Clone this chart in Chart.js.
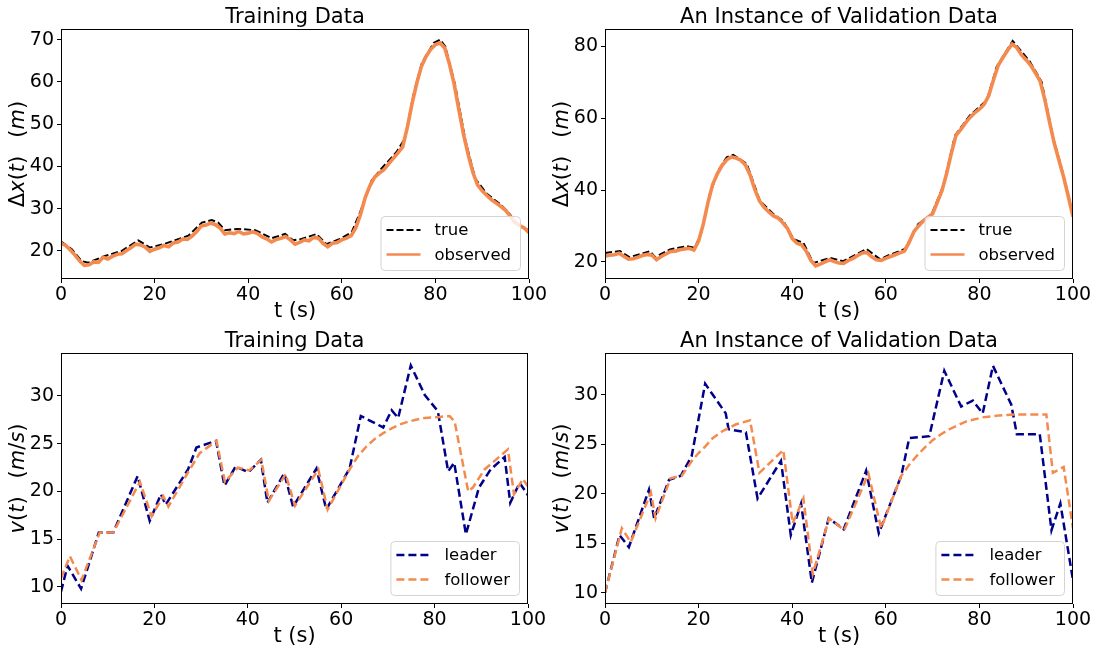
<!DOCTYPE html>
<html>
<head>
<meta charset="utf-8">
<script src="https://cdn.jsdelivr.net/npm/chart.js@4.4.0/dist/chart.umd.min.js"></script>
<style>
  body { margin: 0; background: #fff; }
  #wrap { position: relative; width: 1101px; height: 653px; overflow: hidden; }
  canvas { position: absolute; }
</style>
</head>
<body>
<div id="wrap">
  <canvas id="gapTrain" width="550" height="326" style="left:0;top:0"></canvas>
  <canvas id="gapVal" width="551" height="326" style="left:550px;top:0"></canvas>
  <canvas id="speedTrain" width="550" height="327" style="left:0;top:326px"></canvas>
  <canvas id="speedVal" width="551" height="327" style="left:550px;top:326px"></canvas>
</div>
<script>
// tick labels
const tickT = [0, 20, 40, 60, 80, 100];
const ticksGapTrain = [20, 30, 40, 50, 60, 70];
const ticksGapVal = [20, 40, 60, 80];
const ticksSpeed = [10, 15, 20, 25, 30];

// training gap, true (read at the bends)
const gapTrueTrainT = [0, 2.3, 4.4, 5.8, 9.4, 13, 16.5, 19, 22.2, 27.2, 30.1, 32.2, 33.6, 35, 37.9, 41.5, 43.2, 45, 47.9, 49.6, 51.4, 54.6, 56.7, 59.6, 62.1, 63.9, 66.4, 68.5, 71.7, 73.5, 75.3, 77.1, 79.6, 81, 82.1, 84.2, 86.4, 88.5, 91, 93.8, 95.6, 97.4, 100];
const gapTrueTrain = [22.2, 20.4, 17.6, 17.2, 18.8, 20.0, 22.5, 20.8, 21.7, 23.6, 26.7, 27.3, 26.7, 24.9, 25.2, 24.9, 24.0, 23.0, 24.0, 22.5, 22.8, 24.0, 21.6, 22.8, 24.4, 29.1, 36.7, 39.5, 43.4, 46.6, 56.9, 64.4, 69.2, 70.0, 68.4, 59.3, 46.2, 37.1, 33.5, 31.1, 29.1, 26.4, 24.8];
// training gap, observed (one value per second)
const gapObsTrain = [21.8, 21.3, 20.2, 19.0, 17.6, 16.6, 16.7, 17.4, 17.3, 18.5,
  18.1, 18.7, 19.2, 19.3, 20.1, 20.8, 21.6, 21.4, 20.9, 19.9,
  20.4, 20.7, 21.3, 21.0, 21.9, 22.1, 22.8, 22.7, 23.5, 24.6,
  25.9, 26.1, 26.6, 26.2, 25.4, 24.0, 24.3, 24.1, 24.6, 24.0,
  24.2, 24.5, 24.1, 23.3, 22.8, 22.1, 22.7, 23.0, 23.4, 22.6,
  21.6, 22.0, 22.6, 22.4, 23.2, 23.0, 21.8, 21.0, 21.8, 22.0,
  22.6, 23.0, 23.6, 25.5, 28.6, 32.6, 35.4, 37.4, 38.4, 39.2,
  40.6, 41.9, 43.2, 44.6, 49.2, 54.8, 59.6, 63.6, 66.0, 67.7,
  68.8, 69.2, 68.0, 64.2, 59.5, 53.5, 47.6, 42.8, 38.6, 35.6,
  34.2, 33.1, 32.1, 31.3, 30.5, 29.6, 28.2, 26.7, 26.0, 25.4, 24.3];

// validation gap, true
const gapTrueValT = [0, 3.2, 5.3, 9.6, 10.7, 13.9, 17.5, 19.2, 20.7, 22.4, 24.2, 26.0, 27.4, 30.3, 33.1, 36.0, 38.1, 40.3, 42.4, 44.5, 48.1, 50.9, 55.9, 58.8, 60.5, 64.1, 66.9, 69.8, 72.3, 74.8, 78.0, 81.6, 83.7, 87.1, 90.8, 93.3, 95.8, 98.0, 100];
const gapTrueVal = [22.5, 23.0, 21.3, 23.0, 21.3, 23.5, 24.4, 23.9, 28.6, 38.9, 45.4, 49.1, 49.8, 47.3, 37.0, 33.3, 31.4, 26.3, 25.3, 19.7, 21.1, 20.2, 23.6, 20.7, 21.8, 23.6, 30.5, 33.3, 41.2, 55.2, 60.8, 65.0, 74.3, 81.5, 75.7, 70.1, 54.3, 44.0, 33.0];
// validation gap, observed (one value per second)
const gapObsVal = [21.6, 21.9, 22.0, 22.4, 21.6, 20.8, 20.9, 21.3, 21.8, 22.1,
  21.9, 20.6, 21.5, 22.2, 22.9, 23.0, 23.4, 23.6, 23.8, 23.3,
  25.8, 30.5, 36.5, 41.5, 44.5, 46.8, 48.4, 49.2, 48.9, 48.3,
  47.0, 44.2, 40.2, 37.0, 35.2, 33.9, 32.8, 32.2, 30.9, 29.3,
  26.5, 25.2, 24.8, 23.0, 20.4, 18.9, 19.4, 20.0, 20.6, 20.1,
  19.7, 19.6, 20.4, 21.0, 21.8, 22.5, 22.6, 21.4, 20.6, 20.4,
  21.0, 21.5, 22.0, 22.5, 23.0, 25.5, 28.4, 30.0, 31.4, 32.4,
  33.4, 36.6, 39.8, 44.6, 50.2, 55.2, 56.8, 58.6, 60.2, 61.5,
  62.5, 63.8, 66.3, 70.6, 74.6, 76.8, 78.8, 80.6, 79.6, 77.6,
  76.2, 74.6, 72.5, 70.2, 65.0, 58.8, 53.0, 48.3, 43.6, 38.2, 32.6];

// training speeds
const speedLeadTrainT = [0, 1.4, 4.3, 8.1, 11.2, 16.4, 19.0, 21.4, 22.4, 27.2, 29.0, 33.2, 35.0, 37.4, 40.1, 42.8, 44.2, 47.8, 49.7, 54.7, 56.8, 61.8, 64.2, 69.0, 70.8, 72.2, 74.9, 77.9, 80.7, 82.9, 84.2, 86.7, 89.5, 92.0, 95.0, 96.2, 98.2, 100];
const speedLeadTrain = [9.5, 12.2, 9.8, 15.7, 15.7, 21.6, 16.9, 19.7, 18.6, 22.3, 24.6, 25.3, 20.6, 22.6, 22.0, 23.3, 18.8, 21.9, 18.4, 22.4, 18.1, 22.4, 27.9, 26.7, 28.5, 27.7, 33.2, 30.1, 28.4, 22.1, 23.0, 15.5, 20.4, 22.3, 23.6, 18.8, 20.9, 19.6];
const speedFollowTrainT = [0, 1.9, 4.4, 8.3, 11.2, 16.9, 19.4, 21.9, 23.0, 27.2, 29.7, 33.3, 35.1, 37.9, 40.3, 42.9, 44.5, 48.1, 50.1, 55.1, 57.1, 61.8, 63.6, 65.4, 67.2, 69.0, 70.8, 72.5, 74.3, 76.0, 77.9, 81.1, 83.2, 84.3, 87.2, 88.2, 90.7, 95.7, 97.0, 98.9, 100];
const speedFollowTrain = [10.9, 13.2, 10.7, 15.7, 15.7, 21.0, 17.4, 19.5, 18.4, 22.0, 24.0, 25.3, 21.0, 22.5, 22.2, 23.3, 19.0, 21.8, 18.5, 22.3, 18.1, 22.3, 23.7, 24.7, 25.5, 26.1, 26.6, 27.0, 27.3, 27.5, 27.7, 27.8, 27.9, 27.3, 20.0, 20.4, 22.3, 24.4, 19.7, 21.3, 20.5];

// validation speeds
const speedLeadValT = [0, 3.1, 5.1, 9.4, 10.5, 13.7, 16.2, 18.5, 21.4, 25.8, 26.4, 30.1, 32.6, 37.6, 39.7, 41.9, 44.2, 47.8, 51.0, 55.8, 58.5, 63.3, 65.0, 69.3, 72.5, 76.1, 78.6, 80.7, 82.9, 86.8, 88.0, 92.9, 95.4, 97.3, 100];
const speedLeadVal = [10.0, 15.8, 14.6, 20.4, 17.5, 21.4, 21.8, 23.75, 31.1, 28.1, 26.5, 26.2, 19.5, 23.3, 15.8, 19.0, 11.0, 17.5, 16.4, 22.3, 16.0, 21.8, 25.6, 25.8, 32.4, 28.8, 29.4, 28.1, 32.9, 29.0, 26.0, 26.0, 16.3, 19.0, 11.25];
const speedFollowValT = [0, 3.6, 5.5, 9.8, 10.8, 14.0, 16.4, 18.7, 20.0, 21.5, 23.0, 25.1, 28.0, 31.0, 33.0, 38.1, 40.1, 42.4, 44.4, 47.9, 51.1, 56.3, 59.0, 63.3, 65.0, 66.5, 68.2, 70.0, 71.8, 73.6, 77.2, 80.7, 84.3, 87.9, 94.3, 95.7, 98.0, 100];
const speedFollowVal = [10.0, 16.5, 15.1, 20.1, 17.5, 21.55, 21.8, 23.4, 24.1, 24.8, 25.6, 26.3, 27.0, 27.4, 22.1, 24.4, 17.0, 19.5, 11.9, 17.5, 16.3, 22.0, 16.5, 21.8, 22.9, 23.75, 24.6, 25.4, 26.0, 26.5, 27.3, 27.7, 27.9, 28.0, 28.0, 22.1, 22.7, 16.5];

const ORANGE = '#f58a4f';
const NAVY = '#00008b';

Chart.defaults.font.family = "'DejaVu Sans', sans-serif";
Chart.defaults.color = '#000';

const pts = (ts, vs) => vs.map((v, i) => ({ x: ts[i], y: v }));
const perSecond = vs => vs.map((v, i) => ({ x: i, y: v }));

// frame, title, axis labels and legend drawn by hand (matplotlib look)
const decor = {
  id: 'decor',
  afterDraw(chart, args, o) {
    const { ctx, chartArea: a } = chart;
    ctx.save();
    ctx.strokeStyle = '#000';
    ctx.lineWidth = 1;
    ctx.setLineDash([]);
    ctx.strokeRect(a.left + 0.5, a.top + 0.5, a.right - a.left - 1, a.bottom - a.top - 1);

    ctx.fillStyle = '#000';
    ctx.textAlign = 'center';
    ctx.textBaseline = 'alphabetic';
    ctx.font = "21px 'DejaVu Sans'";
    ctx.fillText(o.title, (a.left + a.right) / 2, a.top - 6);
    ctx.fillText(o.xlabel, (a.left + a.right) / 2, a.bottom + 38);

    // y label with math italics
    const fonts = { n: "21px 'DejaVu Sans'", i: "oblique 21px 'DejaVu Sans'" };
    let total = 0;
    o.ylabel.forEach(seg => {
      if (seg[0] === ' ') { total += 18; return; }
      ctx.font = fonts[seg[1]];
      total += ctx.measureText(seg[0]).width;
    });
    ctx.translate(a.left - 42, (a.top + a.bottom) / 2);
    ctx.rotate(-Math.PI / 2);
    ctx.textAlign = 'left';
    ctx.textBaseline = 'middle';
    let px = -total / 2;
    o.ylabel.forEach(seg => {
      if (seg[0] === ' ') { px += 18; return; }
      ctx.font = fonts[seg[1]];
      ctx.fillText(seg[0], px, 0);
      px += ctx.measureText(seg[0]).width;
    });
    ctx.setTransform(1, 0, 0, 1, 0, 0);

    // legend
    ctx.font = "16.5px 'DejaVu Sans'";
    const tw = Math.max(...o.legend.map(it => ctx.measureText(it.label).width));
    const bw = 54 + tw + 9, bh = 54;
    const bx = a.right - 9 - bw, by = a.bottom - 9 - bh;
    ctx.beginPath();
    ctx.roundRect(bx + 0.5, by + 0.5, bw, bh, 4);
    ctx.fillStyle = 'rgba(255,255,255,0.8)';
    ctx.fill();
    ctx.strokeStyle = '#d4d4d4';
    ctx.lineWidth = 1;
    ctx.stroke();
    o.legend.forEach((it, k) => {
      const ly = by + 14 + k * 24.5;
      ctx.beginPath();
      ctx.strokeStyle = it.color;
      ctx.lineWidth = it.width;
      ctx.setLineDash(it.dash);
      ctx.moveTo(bx + 6, ly);
      ctx.lineTo(bx + 40, ly);
      ctx.stroke();
      ctx.setLineDash([]);
      ctx.fillStyle = '#000';
      ctx.textAlign = 'left';
      ctx.textBaseline = 'middle';
      ctx.fillText(it.label, bx + 54, ly + 1);
    });
    ctx.restore();
  }
};

function panel(id, box, yMin, yMax, yTicks, datasets, deco) {
  return new Chart(document.getElementById(id), {
    type: 'line',
    data: { datasets },
    options: {
      responsive: false,
      animation: false,
      events: [],
      layout: { padding: { left: 0, right: box.right, top: box.top, bottom: 0 } },
      elements: { point: { radius: 0 }, line: { tension: 0 } },
      scales: {
        x: {
          type: 'linear', min: 0, max: 100,
          afterBuildTicks: s => { s.ticks = tickT.map(v => ({ value: v })); },
          afterFit: s => { s.height = box.xh; },
          ticks: { autoSkip: false, maxRotation: 0, padding: 1, font: { size: 19 }, color: '#000' },
          grid: { drawOnChartArea: false, tickLength: 4, color: '#000' },
          border: { display: false }
        },
        y: {
          type: 'linear', min: yMin, max: yMax,
          afterBuildTicks: s => { s.ticks = yTicks.map(v => ({ value: v })); },
          afterFit: s => { s.width = box.yw; },
          ticks: { autoSkip: false, padding: 3, font: { size: 19 }, color: '#000' },
          grid: { drawOnChartArea: false, tickLength: 4, color: '#000' },
          border: { display: false }
        }
      },
      plugins: { legend: { display: false }, tooltip: { enabled: false }, decor: deco }
    },
    plugins: [decor]
  });
}

const gapLabel = [['Δ', 'n'], ['x', 'i'], ['(', 'n'], ['t', 'i'], [')', 'n'], [' '], ['(', 'n'], ['m', 'i'], [')', 'n']];
const speedLabel = [['v', 'i'], ['(', 'n'], ['t', 'i'], [')', 'n'], [' '], ['(', 'n'], ['m', 'i'], ['/', 'n'], ['s', 'i'], [')', 'n']];
const gapLegend = [
  { label: 'true', color: '#000', dash: [7, 3], width: 2 },
  { label: 'observed', color: ORANGE, dash: [], width: 2.5 }
];
const speedLegend = [
  { label: 'leader', color: NAVY, dash: [8, 4], width: 2.5 },
  { label: 'follower', color: ORANGE, dash: [8, 4], width: 2.5 }
];

function gapSets(trueT, trueV, obs) {
  return [
    { label: 'true', data: pts(trueT, trueV), borderColor: '#000', borderWidth: 2, borderDash: [7, 3], order: 1 },
    { label: 'observed', data: perSecond(obs), borderColor: ORANGE, borderWidth: 3.6, order: 0 }
  ];
}
function speedSets(lt, lv, ft, fv) {
  return [
    { label: 'leader', data: pts(lt, lv), borderColor: NAVY, borderWidth: 2.5, borderDash: [8, 4], order: 1 },
    { label: 'follower', data: pts(ft, fv), borderColor: ORANGE, borderWidth: 2.5, borderDash: [8, 4], order: 0 }
  ];
}

panel('gapTrain', { right: 21, top: 29, xh: 47, yw: 61 }, 13.35, 72.5, ticksGapTrain,
  gapSets(gapTrueTrainT, gapTrueTrain, gapObsTrain),
  { title: 'Training Data', xlabel: 't (s)', ylabel: gapLabel, legend: gapLegend });

panel('gapVal', { right: 28, top: 29, xh: 47, yw: 55 }, 15.25, 84.8, ticksGapVal,
  gapSets(gapTrueValT, gapTrueVal, gapObsVal),
  { title: 'An Instance of Validation Data', xlabel: 't (s)', ylabel: gapLabel, legend: gapLegend });

panel('speedTrain', { right: 22, top: 27, xh: 49, yw: 61 }, 8.2, 34.5, ticksSpeed,
  speedSets(speedLeadTrainT, speedLeadTrain, speedFollowTrainT, speedFollowTrain),
  { title: 'Training Data', xlabel: 't (s)', ylabel: speedLabel, legend: speedLegend });

panel('speedVal', { right: 28, top: 27, xh: 49, yw: 55 }, 8.85, 34.2, ticksSpeed,
  speedSets(speedLeadValT, speedLeadVal, speedFollowValT, speedFollowVal),
  { title: 'An Instance of Validation Data', xlabel: 't (s)', ylabel: speedLabel, legend: speedLegend });
</script>
</body>
</html>
